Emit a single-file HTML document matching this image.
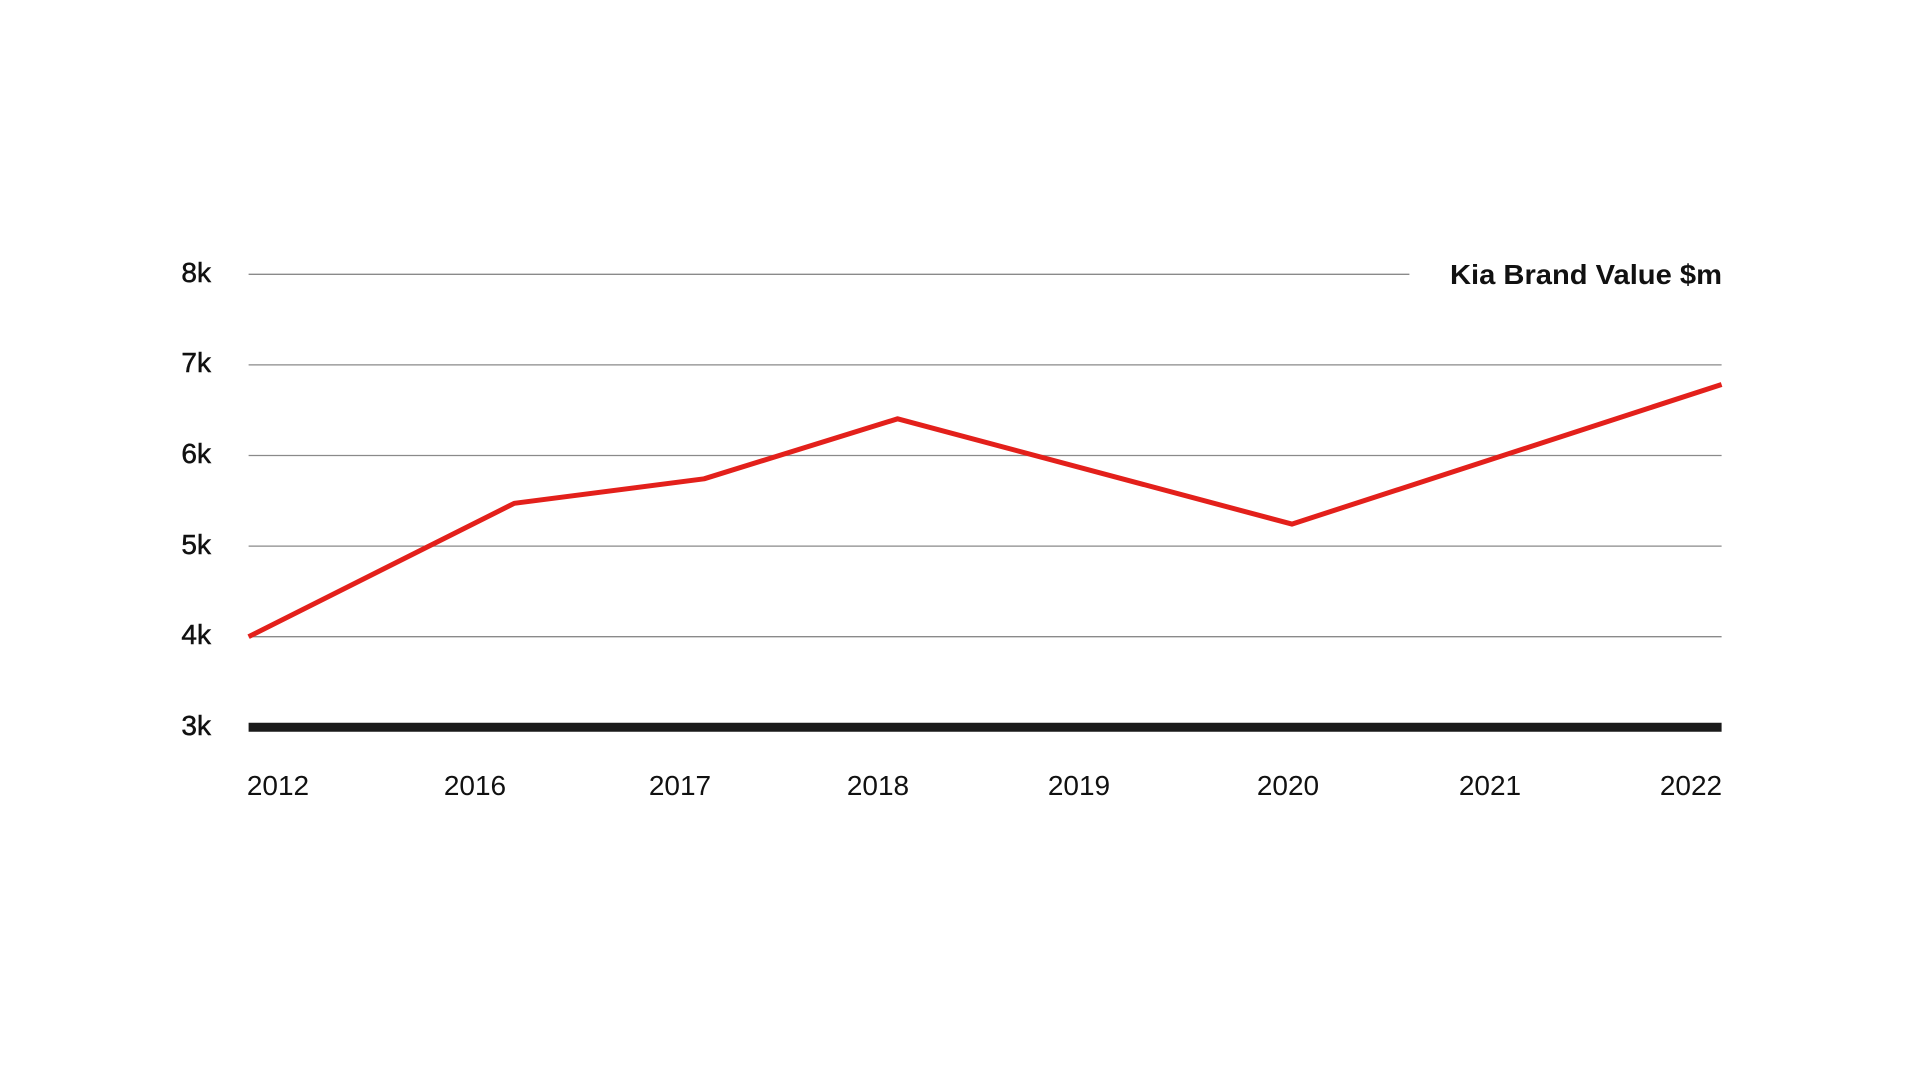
<!DOCTYPE html>
<html><head><meta charset="utf-8"><style>
html,body{margin:0;padding:0;background:#fff;}
svg{display:block;font-family:"Liberation Sans",sans-serif;}
</style></head><body>
<svg width="1920" height="1080" viewBox="0 0 1920 1080" xmlns="http://www.w3.org/2000/svg">
<g stroke="#8a8a8a" stroke-width="1.3">
<line x1="248.6" y1="274.3" x2="1409.4" y2="274.3"/>
<line x1="248.6" y1="364.9" x2="1721.6" y2="364.9"/>
<line x1="248.6" y1="455.5" x2="1721.6" y2="455.5"/>
<line x1="248.6" y1="546.1" x2="1721.6" y2="546.1"/>
<line x1="248.6" y1="636.7" x2="1721.6" y2="636.7"/>
</g>
<line x1="248.6" y1="727.3" x2="1721.6" y2="727.3" stroke="#1a1a1a" stroke-width="9"/>
<g font-size="28" fill="#111" text-anchor="end" stroke="#111" stroke-width="0.5">
<text x="211" y="282">8k</text>
<text x="211" y="372">7k</text>
<text x="211" y="463">6k</text>
<text x="211" y="554">5k</text>
<text x="211" y="644">4k</text>
<text x="211" y="735">3k</text>
</g>
<text x="1450" y="284" font-size="28" font-weight="bold" fill="#111" textLength="272" lengthAdjust="spacingAndGlyphs">Kia Brand Value $m</text>
<g font-size="28" fill="#111" text-anchor="middle">
<text x="278" y="795">2012</text>
<text x="475" y="795">2016</text>
<text x="680" y="795">2017</text>
<text x="878" y="795">2018</text>
<text x="1079" y="795">2019</text>
<text x="1288" y="795">2020</text>
<text x="1490" y="795">2021</text>
<text x="1691" y="795">2022</text>
</g>
<polyline points="248.6,636.7 514.3,503.3 704.1,478.8 897.6,418.8 1291.9,524.1 1721.6,384.5" fill="none" stroke="#e3201b" stroke-width="5" stroke-linejoin="round"/>
</svg>
</body></html>
